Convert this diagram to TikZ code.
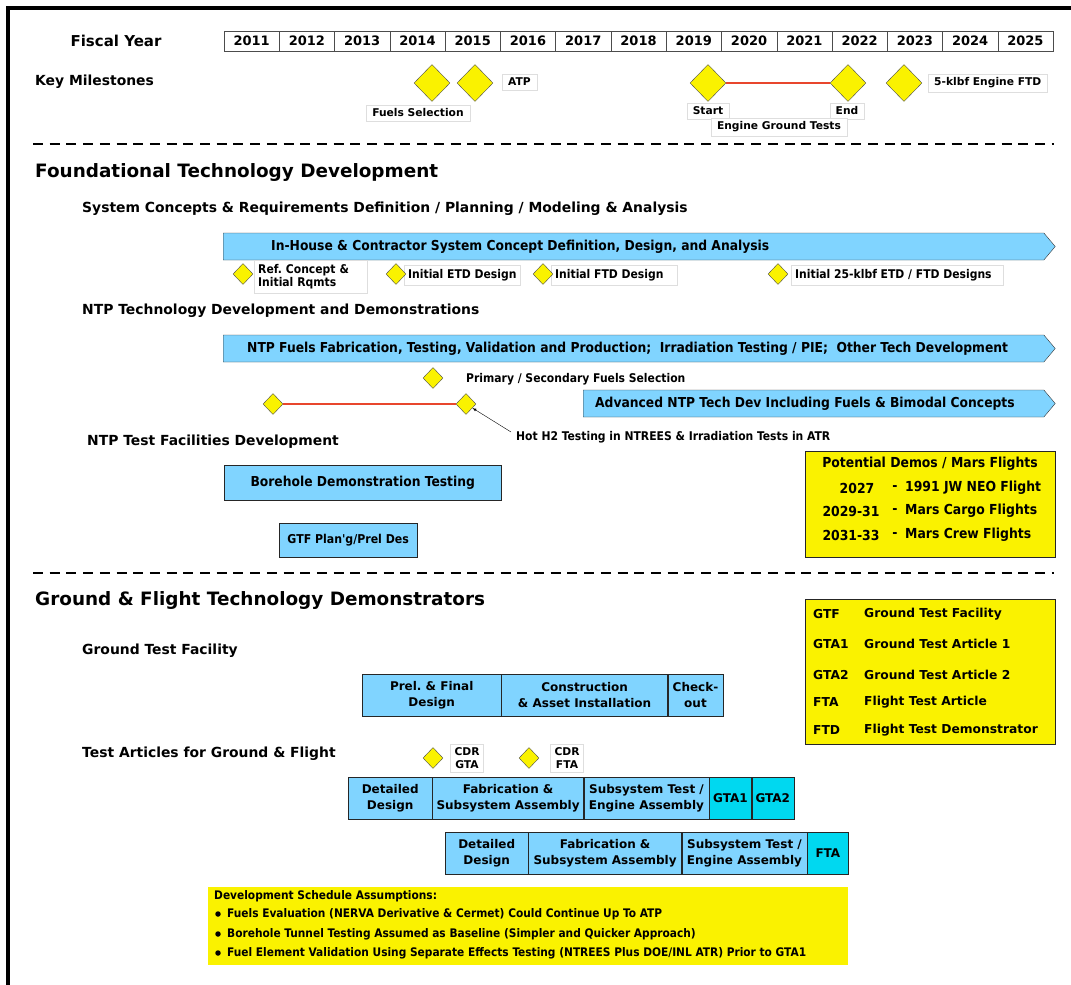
\documentclass[tikz,border=0pt]{standalone}
\usepackage{fontspec}
\setmainfont{DejaVu Sans}
\newfontfamily\narrowfont{DejaVu Sans Condensed}
\usetikzlibrary{shapes.geometric,shapes.symbols,positioning}

\definecolor{taskblue}{RGB}{128,212,255}
\definecolor{gtacyan}{RGB}{0,216,240}
\definecolor{msyellow}{RGB}{250,242,0}
\definecolor{linkred}{RGB}{232,70,45}
\definecolor{tagedge}{RGB}{222,222,222}

\newcommand{\vfont}[1]{\fontsize{#1}{#1}\selectfont\bfseries}
\newcommand{\nfont}[1]{\narrowfont\fontsize{#1}{#1}\selectfont\bfseries}
\frenchspacing

\begin{document}
\begin{tikzpicture}[x=1pt,y=-1pt,
	fy/.style={draw=black!70,minimum width=55.27,minimum height=20,inner sep=0,font=\vfont{13}},
	bigms/.style={diamond,draw=black!70,fill=msyellow,minimum width=36,minimum height=37,inner sep=0},
	smallms/.style={diamond,draw=black!70,fill=msyellow,minimum width=20,minimum height=21,inner sep=0},
	tag/.style={draw=tagedge,fill=white,inner xsep=6,inner ysep=4,font=\vfont{10.7}},
	ntag/.style={draw=tagedge,fill=white,inner xsep=4,inner ysep=4,font=\nfont{12},align=left},
	phasebar/.style={signal,signal to=east,signal pointer angle=100,draw=black!80,fill=taskblue,
		minimum height=27,inner sep=0,anchor=west},
	task/.style={draw=black!85,fill=taskblue,minimum height=42,inner sep=0,align=center,font=\fontsize{12}{16}\selectfont\bfseries},
	hdr/.style={anchor=west,inner sep=0,font=\vfont{13.9}},
	txt/.style={anchor=west,inner sep=0,font=\nfont{12}},
	yellowbox/.style={draw=black!85,fill=msyellow,inner sep=0},
	bullet/.style={circle,fill=black,minimum size=5.5,inner sep=0},
	sepline/.style={line width=2.5,dash pattern=on 10 off 6.7},
	link/.style={draw=linkred,line width=1.5}]

	\useasboundingbox (0,0) rectangle (1071,985);
	\draw[line width=4.5] (8,985) -- (8,8) -- (1071,8);

	\node[anchor=center,inner sep=0,font=\vfont{15}] (fiscal) at (116,41) {Fiscal Year};
	\foreach \yr [count=\i from 0] in {2011,...,2025}
		\node[fy] (fy\yr) at ({224+55.27*(\i+0.5)},41) {\yr};

	\node[hdr] (keyms) at (35,82) {Key Milestones};
	\node[bigms] (fuelsel) at (432,83) {};
	\node[bigms] (atp) at (475,83) {};
	\node[tag,anchor=west] (atptag) at (502,82) {ATP};
	\node[tag] (fueltag) at (418,113) {Fuels Selection};
	\node[bigms] (egtstart) at (708,83) {};
	\node[bigms] (egtend) at (848,83) {};
	\node[bigms] (ftd) at (904,83) {};
	\node[tag,anchor=west] (ftdtag) at (928,83) {5-klbf Engine FTD};
	\node[tag] (starttag) at (708,111) {Start};
	\node[tag] (endtag) at (847,111) {End};
	\node[tag] (egttag) at (779,127) {Engine Ground Tests};
	\draw[link] (egtstart) -- (egtend);

	\draw[sepline] (33,144) -- (1054,144);

	\node[anchor=west,inner sep=0,font=\vfont{18.4}] (found) at (35,172) {Foundational Technology Development};
	\node[hdr] (syscon) at (82,209) {System Concepts \& Requirements Definition / Planning / Modeling \& Analysis};
	\node[phasebar,minimum width=832] (conbar) at (223,246.5) {};
	\node[txt,font=\nfont{13.7}] (contxt) at (271,246.5) {In-House \& Contractor System Concept Definition, Design, and Analysis};
	\node[ntag,anchor=west,text width=105] (reftag) at (254,277) {Ref. Concept \&\\[1pt]Initial Rqmts};
	\node[smallms] (refms) at (243,274) {};
	\node[ntag,anchor=west] (etdtag) at (404,275) {Initial ETD Design};
	\node[smallms] (etdms) at (396,274) {};
	\node[ntag,anchor=west] (ftdtag2) at (551,275) {Initial FTD Design\hspace{10pt}};
	\node[smallms] (ftdms) at (543,274) {};
	\node[ntag,anchor=west] (dsgtag) at (791,275) {Initial 25-klbf ETD / FTD Designs\hspace{8pt}};
	\node[smallms] (dsgms) at (778,274) {};

	\node[hdr] (ntpdev) at (82,311) {NTP Technology Development and Demonstrations};
	\node[phasebar,minimum width=832] (fuelbar) at (223,348.5) {};
	\node[txt,font=\nfont{13.7}] (fueltxt) at (247,348.5) {NTP Fuels Fabrication, Testing, Validation and Production;\ \ Irradiation Testing / PIE;\ \ Other Tech Development};
	\node[smallms] (primms) at (433,378) {};
	\node[txt] (primtxt) at (466,379) {Primary / Secondary Fuels Selection};
	\node[phasebar,minimum width=472] (advbar) at (583,403.5) {};
	\node[txt,font=\nfont{13.7}] (advtxt) at (595,404) {Advanced NTP Tech Dev Including Fuels \& Bimodal Concepts};
	\node[smallms] (hotstart) at (273,404) {};
	\node[smallms] (hotend) at (466,404) {};
	\draw[link] (hotstart) -- (hotend);
	\node[txt] (hottxt) at (516,437) {Hot H2 Testing in NTREES \& Irradiation Tests in ATR};
	\coordinate (hotfrom) at (511,432);
	\draw[-latex,thin] (hotfrom) -- (hotend);

	\node[hdr] (facdev) at (87,442) {NTP Test Facilities Development};
	\node[task,minimum width=277,minimum height=35,anchor=west,font=\nfont{13.7}] (borehole) at (224,482.5) {Borehole Demonstration Testing};
	\node[task,minimum width=138,minimum height=34,anchor=west,font=\nfont{12.2}] (gtfplan) at (279,540) {GTF Plan'g/Prel Des};

	\node[yellowbox,minimum width=250,minimum height=106,anchor=north west] (demos) at (805,451) {};
	\node[inner sep=0,font=\nfont{13.8}] (demostitle) at (930,464) {Potential Demos / Mars Flights};
	\node[inner sep=0,font=\nfont{13.8}] (y27) at (857,488) {2027};
	\node[inner sep=0,font=\nfont{13.8}] (y29) at (851,511) {2029-31};
	\node[inner sep=0,font=\nfont{13.8}] (y31) at (851,535) {2031-33};
	\foreach \row/\yy/\what in {neo/488/1991 JW NEO Flight,cargo/511/Mars Cargo Flights,crew/535/Mars Crew Flights}{
		\node[inner sep=0,font=\nfont{13.8}] (dash\row) at (895,\yy) {-};
		\node[txt,font=\nfont{13.8}] (txt\row) at (905,\yy) {\what};
	}

	\draw[sepline] (33,573) -- (1054,573);

	\node[anchor=west,inner sep=0,font=\vfont{18.4}] (gftd) at (35,600) {Ground \& Flight Technology Demonstrators};

	\node[yellowbox,minimum width=250,minimum height=145,anchor=north west] (legend) at (805,599) {};
	\foreach \ab/\yy/\what in {GTF/614/Ground Test Facility,GTA1/644/Ground Test Article 1,GTA2/675/Ground Test Article 2,FTA/702/Flight Test Article,FTD/730/Flight Test Demonstrator}{
		\node[hdr,font=\vfont{12.3}] (ab\ab) at (813,\yy) {\ab};
		\node[hdr,font=\vfont{12.3}] (def\ab) at (864,\yy) {\what};
	}

	\node[hdr] (gtfhdr) at (82,651) {Ground Test Facility};
	\node[task,minimum width=139,anchor=west] (gtfdes) at (362,695) {Prel. \& Final\\Design};
	\node[task,minimum width=166,right=0pt of gtfdes] (gtfcon) {Construction\\\& Asset Installation};
	\node[task,minimum width=55,right=0pt of gtfcon] (gtfchk) {Check-\\out};

	\node[hdr] (tahdr) at (82,754) {Test Articles for Ground \& Flight};
	\node[smallms] (cdrgtams) at (433,758) {};
	\node[tag,align=center,font=\fontsize{10.7}{12.5}\selectfont\bfseries,inner xsep=4] (cdrgta) at (467,758) {CDR\\GTA};
	\node[smallms] (cdrftams) at (529,758) {};
	\node[tag,align=center,font=\fontsize{10.7}{12.5}\selectfont\bfseries,inner xsep=4] (cdrfta) at (567,758) {CDR\\FTA};

	\node[task,minimum width=84,anchor=west] (gtadd) at (348,798) {Detailed\\Design};
	\node[task,minimum width=151,right=0pt of gtadd] (gtafab) {Fabrication \&\\Subsystem Assembly};
	\node[task,minimum width=125,right=0pt of gtafab] (gtasub) {Subsystem Test /\\Engine Assembly};
	\node[task,fill=gtacyan,minimum width=42,right=0pt of gtasub] (gta1) {GTA1};
	\node[task,fill=gtacyan,minimum width=42,right=0pt of gta1] (gta2) {GTA2};

	\node[task,minimum width=83,anchor=west] (ftadd) at (445,853) {Detailed\\Design};
	\node[task,minimum width=153,right=0pt of ftadd] (ftafab) {Fabrication \&\\Subsystem Assembly};
	\node[task,minimum width=125,right=0pt of ftafab] (ftasub) {Subsystem Test /\\Engine Assembly};
	\node[task,fill=gtacyan,minimum width=41,right=0pt of ftasub] (fta) {FTA};

	\node[fill=msyellow,minimum width=640,minimum height=78,anchor=north west,inner sep=0] (assume) at (208,887) {};
	\node[txt,font=\nfont{11.8}] (assumehdr) at (214,896) {Development Schedule Assumptions:};
	\foreach \yy/\what in {914/{Fuels Evaluation (NERVA Derivative \& Cermet) Could Continue Up To ATP},
		934/{Borehole Tunnel Testing Assumed as Baseline (Simpler and Quicker Approach)},
		953/{Fuel Element Validation Using Separate Effects Testing (NTREES Plus DOE/INL ATR) Prior to GTA1}}{
		\node[bullet] (bul\yy) at (218,\yy) {};
		\node[txt,font=\nfont{11.8}] (ass\yy) at (227,\yy) {\what};
	}
\end{tikzpicture}
\end{document}
